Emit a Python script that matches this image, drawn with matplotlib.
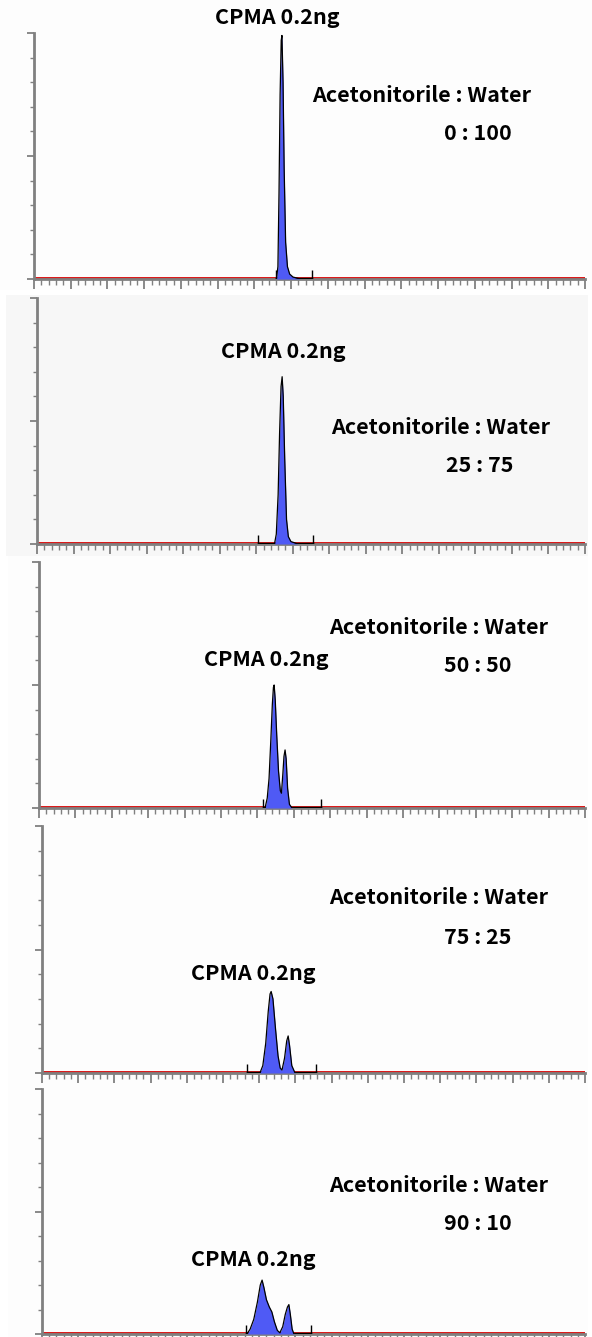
import matplotlib
matplotlib.use("Agg")
import matplotlib.pyplot as plt
from matplotlib.patches import Rectangle
from matplotlib.ticker import MultipleLocator

W, H = 592, 1337

# solvent ratios (acetonitrile : water) per run
ratios = ["0 : 100", "25 : 75", "50 : 50", "75 : 25", "90 : 10"]
peak_label = "CPMA 0.2ng"
solvent_label = "Acetonitorile : Water"

# chromatogram traces (retention time in min, normalised response)
t1 = [6.60, 6.64, 6.67, 6.70, 6.73, 6.75, 6.78, 6.81, 6.85, 6.90, 6.96, 7.05, 7.25]
y1 = [0.0, 0.05, 0.35, 0.75, 0.97, 0.99, 0.80, 0.45, 0.15, 0.05, 0.02, 0.008, 0.0]

t2 = [6.50, 6.55, 6.60, 6.64, 6.68, 6.71, 6.74, 6.78, 6.83, 6.88, 6.95, 7.14]
y2 = [0.0, 0.04, 0.20, 0.45, 0.64, 0.68, 0.60, 0.35, 0.10, 0.03, 0.01, 0.0]

t3 = [6.21, 6.27, 6.32, 6.37, 6.41, 6.44, 6.46, 6.49, 6.53, 6.58, 6.63, 6.66,
      6.70, 6.73, 6.76, 6.79, 6.83, 6.88, 6.95]
y3 = [0.0, 0.04, 0.12, 0.28, 0.42, 0.49, 0.50, 0.44, 0.30, 0.15, 0.07, 0.06,
      0.14, 0.21, 0.236, 0.20, 0.08, 0.015, 0.0]

t4 = [6.02, 6.10, 6.18, 6.25, 6.30, 6.33, 6.38, 6.45, 6.52, 6.58, 6.63, 6.70,
      6.76, 6.80, 6.84, 6.90, 6.99]
y4 = [0.0, 0.03, 0.12, 0.25, 0.32, 0.33, 0.30, 0.18, 0.07, 0.02, 0.012, 0.06,
      0.13, 0.15, 0.11, 0.03, 0.0]

t5 = [5.66, 5.75, 5.85, 5.95, 6.03, 6.08, 6.13, 6.20, 6.28, 6.35, 6.42, 6.50,
      6.57, 6.65, 6.72, 6.78, 6.82, 6.86, 6.91, 6.96]
y5 = [0.0, 0.02, 0.06, 0.13, 0.20, 0.22, 0.19, 0.14, 0.11, 0.09, 0.05, 0.015,
      0.005, 0.03, 0.08, 0.11, 0.12, 0.08, 0.02, 0.0]

traces = [(t1, y1), (t2, y2), (t3, y3), (t4, y4), (t5, y5)]
# integration window markers (min)
windows = [(6.59, 7.57), (6.05, 7.56), (6.15, 7.75), (5.66, 7.57), (5.64, 7.43)]

# layout in pixels: axis left, top, baseline
boxes = [(34, 33, 279), (37, 298, 544), (39, 562, 808), (42, 826, 1073), (42, 1089, 1334)]
right_px = 585
bg_boxes = [(0, 0, 592, 290, "#fdfdfd"), (6, 295, 588, 556, "#f7f7f7"),
            (8, 556, 588, 818, "#fdfdfd"), (8, 818, 588, 1082, "#fdfdfd"),
            (8, 1082, 588, 1337, "#fdfdfd")]
cpma_pos = [(277, 17), (283, 351), (266, 660), (253, 973), (253, 1260)]
solv_pos = [(422, 96), (441, 428), (439, 627), (439, 898), (439, 1185)]
ratio_pos = [(478, 134), (480, 466), (478, 666), (478, 937), (478, 1224)]

fig = plt.figure(figsize=(W / 100, H / 100), dpi=100)
fig.patch.set_facecolor("white")

for x0, y0, x1, y1b, c in bg_boxes:
    fig.patches.append(Rectangle((x0 / W, 1 - y1b / H), (x1 - x0) / W, (y1b - y0) / H,
                                 transform=fig.transFigure, facecolor=c, edgecolor="none",
                                 zorder=-5))

font = dict(family=["Noto Sans CJK JP", "DejaVu Sans"], weight="bold", fontsize=15.5,
            color="black", ha="center", va="center")

grey = "#808080"
for i, (t, y) in enumerate(traces):
    left, top, base = boxes[i]
    ax = fig.add_axes([left / W, 1 - base / H, (right_px - left) / W, (base - top) / H])
    ax.set_zorder(2)
    ax.patch.set_alpha(0)
    ax.set_xlim(0, 15)
    ax.set_ylim(0, 1)
    for s in ["top", "right"]:
        ax.spines[s].set_visible(False)
    for s in ["left", "bottom"]:
        ax.spines[s].set_color(grey)
        ax.spines[s].set_linewidth(2)
    ax.xaxis.set_major_locator(MultipleLocator(1))
    ax.xaxis.set_minor_locator(MultipleLocator(0.2))
    ax.yaxis.set_major_locator(MultipleLocator(0.5))
    ax.yaxis.set_minor_locator(MultipleLocator(0.1))
    ax.tick_params(axis="x", which="major", length=7, width=1.3, color=grey, direction="out")
    ax.tick_params(axis="x", which="minor", length=4, width=1, color=grey, direction="out")
    ax.tick_params(axis="y", which="major", length=5, width=1.3, color=grey, direction="out")
    ax.tick_params(axis="y", which="minor", length=3, width=1, color=grey, direction="out")
    ax.set_xticklabels([])
    ax.set_yticklabels([])
    ax.set_xticklabels([], minor=True)
    ax.set_yticklabels([], minor=True)

    ax.axhline(0.005, color="#d80000", lw=2, zorder=2)
    a, b = windows[i]
    ax.plot([a, b], [0.005, 0.005], color="black", lw=1, zorder=3)
    ax.vlines([a, b], 0, 0.035, color="black", lw=1, zorder=3)
    ax.fill_between(t, 0, y, color="#4f5af5", lw=0, zorder=4)
    ax.plot(t, y, color="black", lw=0.9, zorder=5)

    cx, cy = cpma_pos[i]
    fig.text(cx / W, 1 - cy / H, peak_label, zorder=3, **font)
    sx, sy = solv_pos[i]
    fig.text(sx / W, 1 - sy / H, solvent_label, zorder=3, **font)
    rx, ry = ratio_pos[i]
    fig.text(rx / W, 1 - ry / H, ratios[i], zorder=3, **font)

fig.savefig("out.png", dpi=100)
